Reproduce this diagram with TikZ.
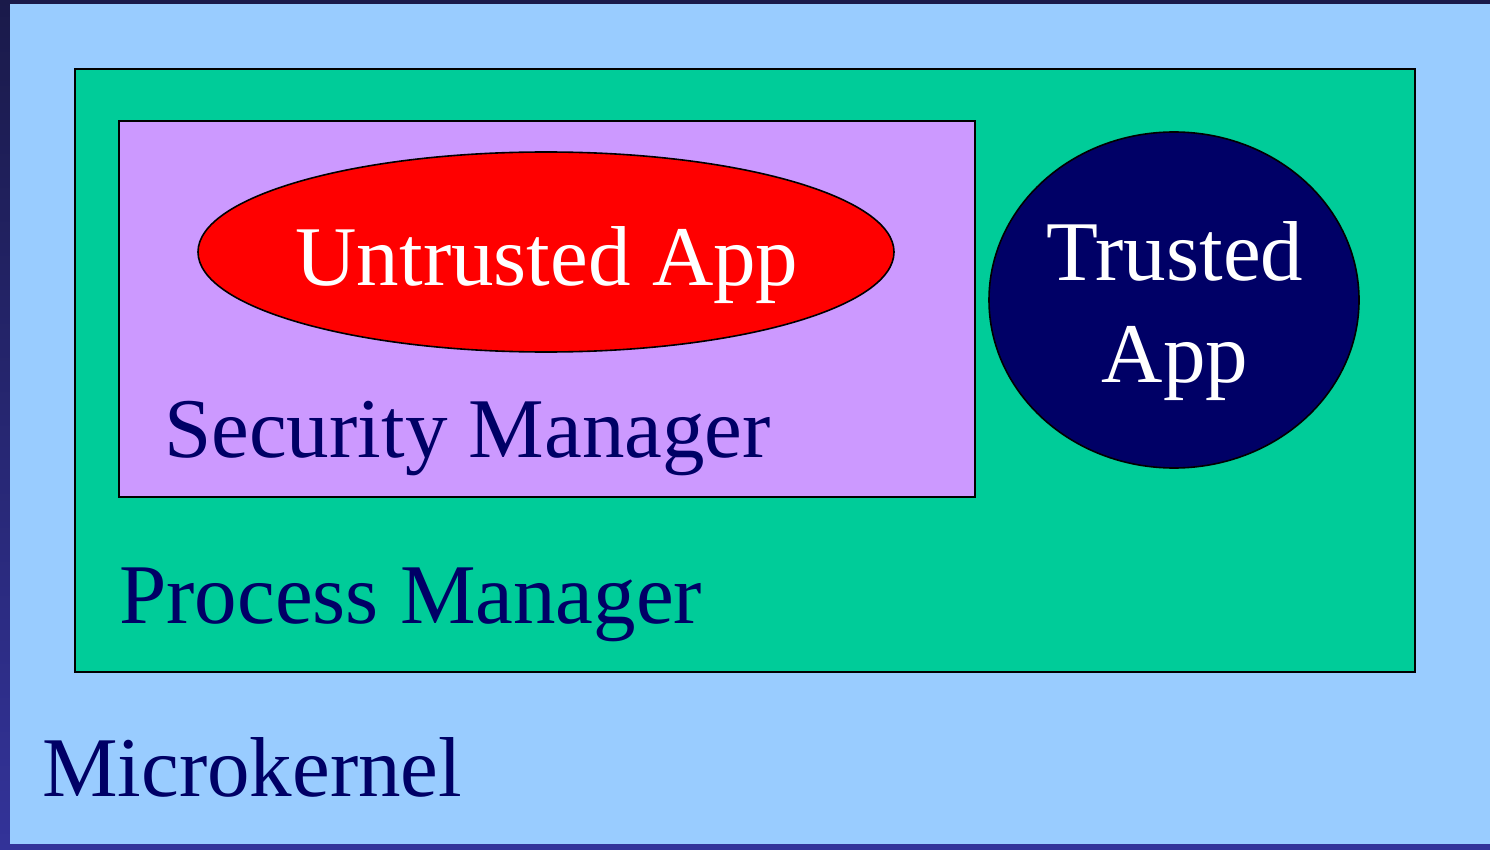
\documentclass[tikz,border=0pt]{standalone}
\usepackage{fontspec}
\setmainfont{Liberation Serif}
\usetikzlibrary{shapes.geometric}
\definecolor{bgtop}{HTML}{1A1A4A}
\definecolor{bgbot}{HTML}{333399}
\definecolor{kernelblue}{HTML}{99CCFF}
\definecolor{procgreen}{HTML}{00CC99}
\definecolor{secpurple}{HTML}{CC99FF}
\definecolor{navy}{HTML}{000066}
\tikzset{
  box/.style={draw=black, line width=2pt},
  bigtext/.style={font=\fontsize{85}{100}\selectfont, inner sep=0pt, anchor=base west, text=navy},
  apptext/.style={font=\fontsize{85}{100}\selectfont, inner sep=0pt, anchor=base, text=white},
}
\begin{document}
\begin{tikzpicture}[x=1pt,y=-1pt]
\useasboundingbox (0,0) rectangle (1490,850);
\shade[top color=bgtop, bottom color=bgbot] (0,0) rectangle (1490,850);
\fill[kernelblue] (10,4) rectangle (1490,844);
\node[box, fill=procgreen, rectangle, inner sep=0pt, minimum width=1340pt, minimum height=603pt, anchor=north west] (proc) at (74,68) {};
\node[box, fill=secpurple, rectangle, inner sep=0pt, minimum width=856pt, minimum height=376pt, anchor=north west] (sec) at (118,120) {};
\node[box, line width=1.6pt, fill=red, ellipse, inner sep=0pt, minimum width=696pt, minimum height=200pt] (untrusted) at (546,252) {};
\node[box, line width=1.6pt, fill=navy, ellipse, inner sep=0pt, minimum width=370pt, minimum height=336pt] (trusted) at (1174,300) {};
\node[apptext] (untrustedlbl) at (547,285) {Untrusted App};
\node[apptext] (trustedlbl1) at (1175,280) {Trusted};
\node[apptext] (trustedlbl2) at (1175,382) {App};
\node[bigtext] (seclbl) at (164,457) {Security Manager};
\node[bigtext] (proclbl) at (119,623) {Process Manager};
\node[bigtext] (kernlbl) at (42,796) {Microkernel};
\end{tikzpicture}
\end{document}
